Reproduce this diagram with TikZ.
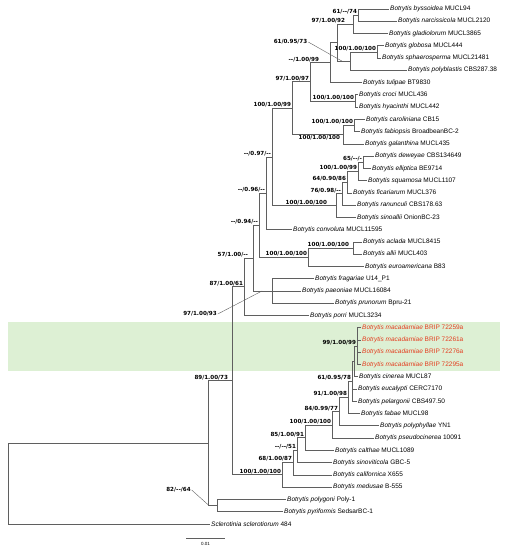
\documentclass[tikz,border=0pt]{standalone}
\usepackage{fontspec}
\setmainfont{Liberation Sans}
\newfontfamily\bootfont{DejaVu Sans}
\definecolor{branchgray}{RGB}{95,95,95}
\definecolor{macred}{RGB}{228,62,32}
\definecolor{macgreen}{RGB}{221,240,212}

\begin{document}
\begin{tikzpicture}[x=1pt,y=-1pt]
\tikzstyle{taxon}=[anchor=west,inner sep=1pt,font=\fontsize{6.5}{7}\selectfont]
\tikzstyle{taxonred}=[taxon,text=macred]
\tikzstyle{boot}=[inner sep=0.8pt,font=\bootfont\bfseries\fontsize{5.6}{6}\selectfont]
\tikzstyle{bootup}=[boot,anchor=south east]
\tikzstyle{branch}=[draw=branchgray,line width=0.7pt]
\tikzstyle{leader}=[draw=branchgray,line width=0.4pt]
\useasboundingbox (0,0) rectangle (507,550);
\fill[macgreen] (8,322) rectangle (500,371);

% tips
\node[taxon](byssoidea) at (389,9.00) {\textit{Botrytis byssoidea} MUCL94};
\node[taxon](narcissicola) at (397,21.26) {\textit{Botrytis narcissicola} MUCL2120};
\node[taxon](gladiolorum) at (388,33.52) {\textit{Botrytis gladiolorum} MUCL3865};
\node[taxon](globosa) at (384,45.78) {\textit{Botrytis globosa} MUCL444};
\node[taxon](sphaerosperma) at (381,58.04) {\textit{Botrytis sphaerosperma} MUCL21481};
\node[taxon](polyblastis) at (407,70.30) {\textit{Botrytis polyblastis} CBS287.38};
\node[taxon](tulipae) at (362,82.56) {\textit{Botrytis tulipae} BT9830};
\node[taxon](croci) at (358,94.82) {\textit{Botrytis croci} MUCL436};
\node[taxon](hyacinthi) at (358,107.08) {\textit{Botrytis hyacinthi} MUCL442};
\node[taxon](caroliniana) at (365,119.34) {\textit{Botrytis caroliniana} CB15};
\node[taxon](fabiopsis) at (360,131.60) {\textit{Botrytis fabiopsis} BroadbeanBC-2};
\node[taxon](galanthina) at (364,143.86) {\textit{Botrytis galanthina} MUCL435};
\node[taxon](deweyae) at (374,156.12) {\textit{Botrytis deweyae} CBS134649};
\node[taxon](elliptica) at (371,168.38) {\textit{Botrytis elliptica} BE9714};
\node[taxon](squamosa) at (367,180.64) {\textit{Botrytis squamosa} MUCL1107};
\node[taxon](ficariarum) at (352,192.90) {\textit{Botrytis ficariarum} MUCL376};
\node[taxon](ranunculi) at (356,205.16) {\textit{Botrytis ranunculi} CBS178.63};
\node[taxon](sinoallii) at (356,217.42) {\textit{Botrytis sinoallii} OnionBC-23};
\node[taxon](convoluta) at (292,229.68) {\textit{Botrytis convoluta} MUCL11595};
\node[taxon](aclada) at (362,241.94) {\textit{Botrytis aclada} MUCL8415};
\node[taxon](allii) at (362,254.20) {\textit{Botrytis allii} MUCL403};
\node[taxon](euroamericana) at (364,266.46) {\textit{Botrytis euroamericana} B83};
\node[taxon](fragariae) at (314,278.72) {\textit{Botrytis fragariae} U14\_P1};
\node[taxon](paeoniae) at (301,290.98) {\textit{Botrytis paeoniae} MUCL16084};
\node[taxon](prunorum) at (334,303.24) {\textit{Botrytis prunorum} Bpru-21};
\node[taxon](porri) at (309,315.50) {\textit{Botrytis porri} MUCL3234};
\node[taxonred](macA) at (361,327.76) {\textit{Botrytis macadamiae} BRIP 72259a};
\node[taxonred](macB) at (361,340.02) {\textit{Botrytis macadamiae} BRIP 72261a};
\node[taxonred](macC) at (361,352.28) {\textit{Botrytis macadamiae} BRIP 72276a};
\node[taxonred](macD) at (361,364.54) {\textit{Botrytis macadamiae} BRIP 72295a};
\node[taxon](cinerea) at (358,376.80) {\textit{Botrytis cinerea} MUCL87};
\node[taxon](eucalypti) at (357,389.06) {\textit{Botrytis eucalypti} CERC7170};
\node[taxon](pelargonii) at (357,401.32) {\textit{Botrytis pelargonii} CBS497.50};
\node[taxon](fabae) at (360,413.58) {\textit{Botrytis fabae} MUCL98};
\node[taxon](polyphyllae) at (379,425.84) {\textit{Botrytis polyphyllae} YN1};
\node[taxon](pseudocinerea) at (374,438.10) {\textit{Botrytis pseudocinerea} 10091};
\node[taxon](calthae) at (334,450.36) {\textit{Botrytis calthae} MUCL1089};
\node[taxon](sinoviticola) at (332,462.62) {\textit{Botrytis sinoviticola} GBC-5};
\node[taxon](californica) at (332,474.88) {\textit{Botrytis californica} X655};
\node[taxon](medusae) at (332,487.14) {\textit{Botrytis medusae} B-555};
\node[taxon](polygoni) at (286,499.40) {\textit{Botrytis polygoni} Poly-1};
\node[taxon](pyriformis) at (283,511.66) {\textit{Botrytis pyriformis} SedsarBC-1};
\node[taxon](sclerotiorum) at (210,523.92) {\textit{Sclerotinia sclerotiorum} 484};

% internal nodes
\coordinate (bysnar) at (358,15.13);
\coordinate (glad) at (353,24.33);
\coordinate (globsph) at (377,51.91);
\coordinate (polybl) at (350,61.11);
\coordinate (upper) at (337,42.72);
\coordinate (tulip) at (330,62.64);
\coordinate (croc) at (355,100.95);
\coordinate (tulcro) at (310,81.80);
\coordinate (carfab) at (354,125.47);
\coordinate (galan) at (343,134.67);
\coordinate (core) at (292,108.24);
\coordinate (dewell) at (363,162.25);
\coordinate (squam) at (358,171.45);
\coordinate (ficar) at (347,182.18);
\coordinate (ranun) at (342,193.67);
\coordinate (sinoal) at (336,205.55);
\coordinate (bulb) at (272,156.90);
\coordinate (convol) at (266,193.29);
\coordinate (aclal) at (353,248.07);
\coordinate (euroam) at (308,257.27);
\coordinate (grpA) at (259,225.28);
\coordinate (fragpru) at (272,290.98);
\coordinate (grpB) at (253,258.13);
\coordinate (grpC) at (244,286.82);
\coordinate (mac) at (357,346.15);
\coordinate (cincl) at (354,361.48);
\coordinate (eucpel) at (352,381.40);
\coordinate (fabcl) at (348,397.49);
\coordinate (polyph) at (339,411.67);
\coordinate (pseudo) at (332,424.89);
\coordinate (calth) at (305,437.63);
\coordinate (sinov) at (297,450.13);
\coordinate (calif) at (293,462.51);
\coordinate (medus) at (282,474.83);
\coordinate (ingroup) at (232,380.83);
\coordinate (pyrpol) at (217,505.53);
\coordinate (botrytis) at (208,443.18);
\coordinate (root) at (8,483.55);

% branches
\draw[branch] (bysnar) |- (byssoidea.west) (bysnar) |- (narcissicola.west);
\draw[branch] (glad) |- (bysnar) (glad) |- (gladiolorum.west);
\draw[branch] (globsph) |- (globosa.west) (globsph) |- (sphaerosperma.west);
\draw[branch] (polybl) |- (globsph) (polybl) |- (polyblastis.west);
\draw[branch] (upper) |- (glad) (upper) |- (polybl);
\draw[branch] (tulip) |- (upper) (tulip) |- (tulipae.west);
\draw[branch] (croc) |- (croci.west) (croc) |- (hyacinthi.west);
\draw[branch] (tulcro) |- (tulip) (tulcro) |- (croc);
\draw[branch] (carfab) |- (caroliniana.west) (carfab) |- (fabiopsis.west);
\draw[branch] (galan) |- (carfab) (galan) |- (galanthina.west);
\draw[branch] (core) |- (tulcro) (core) |- (galan);
\draw[branch] (dewell) |- (deweyae.west) (dewell) |- (elliptica.west);
\draw[branch] (squam) |- (dewell) (squam) |- (squamosa.west);
\draw[branch] (ficar) |- (squam) (ficar) |- (ficariarum.west);
\draw[branch] (ranun) |- (ficar) (ranun) |- (ranunculi.west);
\draw[branch] (sinoal) |- (ranun) (sinoal) |- (sinoallii.west);
\draw[branch] (bulb) |- (core) (bulb) |- (sinoal);
\draw[branch] (convol) |- (bulb) (convol) |- (convoluta.west);
\draw[branch] (aclal) |- (aclada.west) (aclal) |- (allii.west);
\draw[branch] (euroam) |- (aclal) (euroam) |- (euroamericana.west);
\draw[branch] (grpA) |- (convol) (grpA) |- (euroam);
\draw[branch] (fragpru) |- (fragariae.west) (fragpru) |- (paeoniae.west) (fragpru) |- (prunorum.west);
\draw[branch] (grpB) |- (grpA) (grpB) |- (fragpru);
\draw[branch] (grpC) |- (grpB) (grpC) |- (porri.west);
\draw[branch] (mac) |- (macA.west) (mac) |- (macB.west) (mac) |- (macC.west) (mac) |- (macD.west);
\draw[branch] (cincl) |- (mac) (cincl) |- (cinerea.west);
\draw[branch] (eucpel) |- (cincl) (eucpel) |- (eucalypti.west) (eucpel) |- (pelargonii.west);
\draw[branch] (fabcl) |- (eucpel) (fabcl) |- (fabae.west);
\draw[branch] (polyph) |- (fabcl) (polyph) |- (polyphyllae.west);
\draw[branch] (pseudo) |- (polyph) (pseudo) |- (pseudocinerea.west);
\draw[branch] (calth) |- (pseudo) (calth) |- (calthae.west);
\draw[branch] (sinov) |- (calth) (sinov) |- (sinoviticola.west);
\draw[branch] (calif) |- (sinov) (calif) |- (californica.west);
\draw[branch] (medus) |- (calif) (medus) |- (medusae.west);
\draw[branch] (ingroup) |- (grpC) (ingroup) |- (medus);
\draw[branch] (pyrpol) |- (polygoni.west) (pyrpol) |- (pyriformis.west);
\draw[branch] (botrytis) |- (ingroup) (botrytis) |- (pyrpol);
\draw[branch] (root) |- (botrytis) (root) |- (sclerotiorum.west);

% support values
\node[bootup] at (bysnar) {61/-{}-/74};
\node[bootup,xshift=-7pt] at (glad) {97/1.00/92};
\node[bootup] at (globsph) {100/1.00/100};
\node[bootup,xshift=-10pt] at (tulip) {-{}-/1.00/99};
\node[bootup] at (tulcro) {97/1.00/97};
\node[bootup] at (croc) {100/1.00/100};
\node[bootup] at (carfab) {100/1.00/100};
\node[boot,anchor=north east,xshift=-2pt] at (galan) {100/1.00/100};
\node[bootup] at (core) {100/1.00/99};
\node[bootup] at (dewell) {65/-{}-/-};
\node[bootup] at (squam) {100/1.00/99};
\node[bootup] at (ficar) {64/0.90/86};
\node[bootup] at (ranun) {76/0.98/-{}-};
\node[bootup,xshift=-8pt] at (sinoal) {100/1.00/100};
\node[bootup] at (bulb) {-{}-/0.97/-{}-};
\node[bootup] at (convol) {-{}-/0.96/-{}-};
\node[bootup,xshift=-3pt] at (aclal) {100/1.00/100};
\node[bootup] at (euroam) {100/1.00/100};
\node[bootup] at (grpA) {-{}-/0.94/-{}-};
\node[bootup,xshift=-4pt] at (grpB) {57/1.00/-{}-};
\node[bootup] at (grpC) {87/1.00/61};
\node[bootup] at (mac) {99/1.00/99};
\node[bootup] at (eucpel) {61/0.95/78};
\node[bootup] at (fabcl) {91/1.00/98};
\node[bootup] at (polyph) {84/0.99/77};
\node[bootup] at (pseudo) {100/1.00/100};
\node[bootup] at (calth) {85/1.00/91};
\node[bootup] at (sinov) {-{}-/-{}-/51};
\node[bootup] at (calif) {68/1.00/87};
\node[bootup] at (medus) {100/1.00/100};
\node[bootup,xshift=-3pt] at (ingroup) {89/1.00/73};

% labels with leader lines
\node[boot](lblpoly) at (290.5,42) {61/0.95/73};
\coordinate (polystem) at (342,61.11);
\draw[leader] (lblpoly.east) -- (polystem);
\node[boot](lblfrag) at (200,314) {97/1.00/93};
\coordinate (fragstem) at (262,290.98);
\draw[leader] (lblfrag.east) -- (fragstem);
\node[boot](lblpyr) at (178.5,490) {82/-{}-/64};
\coordinate (pyrstem) at (209,505.53);
\draw[leader] (lblpyr.east) -- (pyrstem);

% scale bar
\coordinate (sbL) at (186,538);
\coordinate (sbR) at (225,538);
\draw[branch] (sbL) -- (sbR);
\node[inner sep=0pt,font=\fontsize{4.5}{5}\selectfont](sblabel) at (205.5,544) {0.01};
\end{tikzpicture}
\end{document}
